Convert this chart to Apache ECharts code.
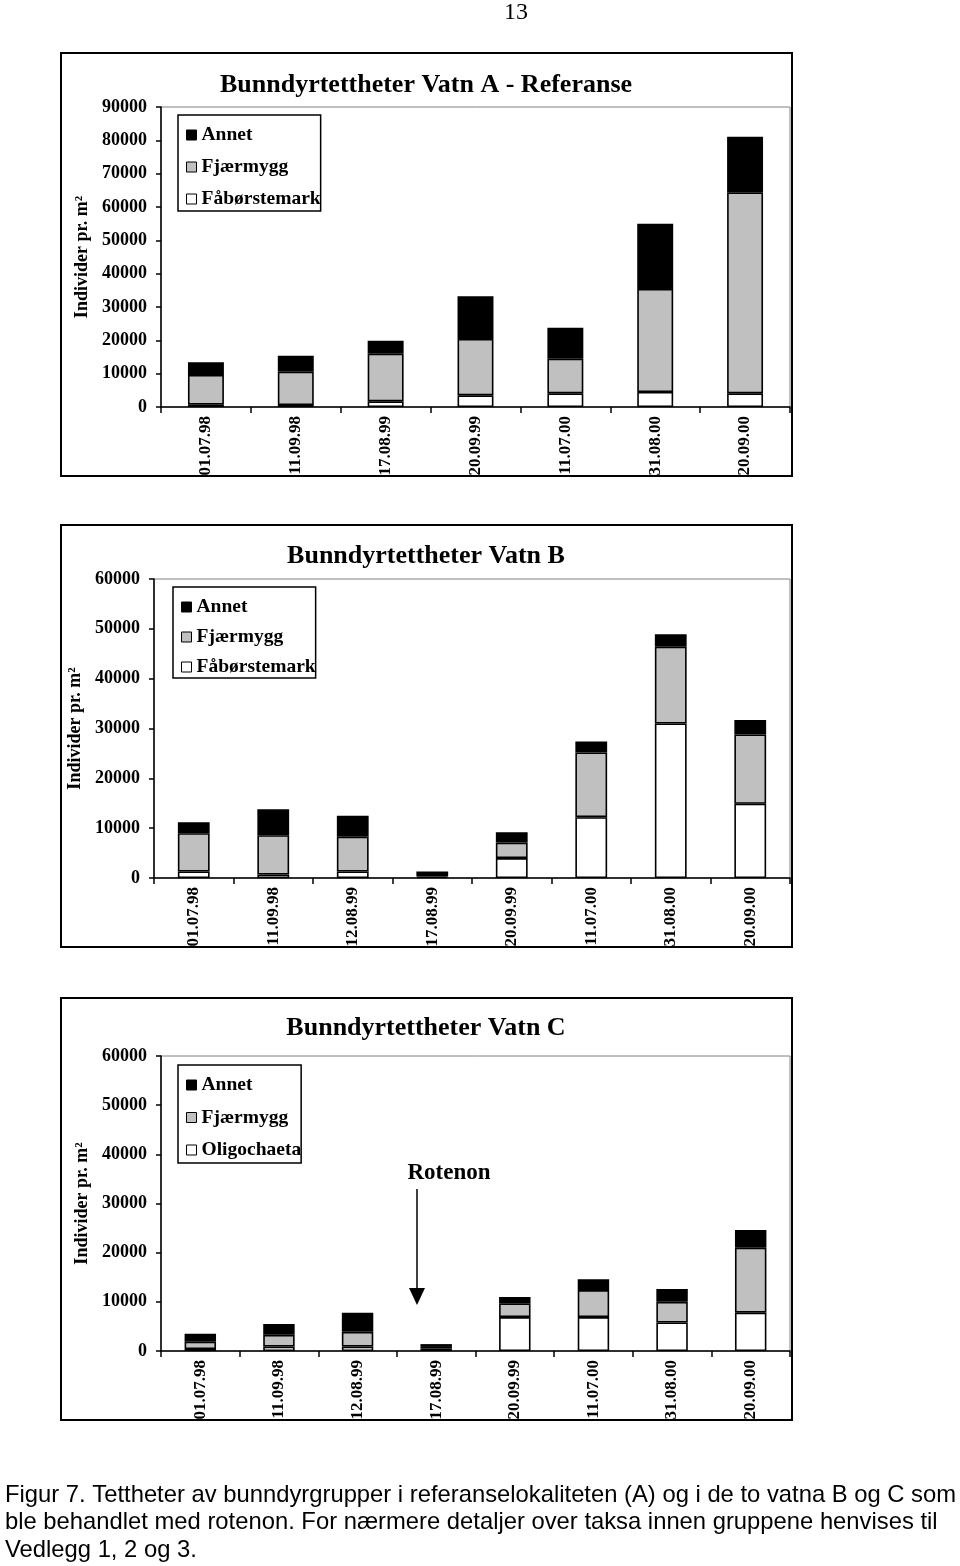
<!DOCTYPE html>
<html>
<head>
<meta charset="utf-8">
<script src="https://cdn.jsdelivr.net/npm/echarts@6/dist/echarts.min.js"></script>
<style>
html,body{margin:0;padding:0;background:#fff;}
#main{width:960px;height:1566px;}
</style>
</head>
<body>
<div id="main"></div>
<script>
// ---- Data ----
const categoriesA = ['01.07.98','11.09.98','17.08.99','20.09.99','11.07.00','31.08.00','20.09.00'];
const faborstemarkA = [700, 600, 1700, 3500, 4100, 4500, 4100];
const fjaermyggA   = [8900, 10000, 14300, 16900, 10400, 30900, 60300];
const annetA       = [3800, 4800, 3900, 12800, 9300, 19600, 16700];

const categoriesB = ['01.07.98','11.09.98','12.08.99','17.08.99','20.09.99','11.07.00','31.08.00','20.09.00'];
const faborstemarkB = [1300, 700, 1300, 300, 4000, 12200, 31000, 14900];
const fjaermyggB   = [7700, 7900, 7000, 500, 3100, 13000, 15400, 13900];
const annetB       = [2200, 5200, 4200, 500, 2100, 2200, 2500, 2900];

const categoriesC = ['01.07.98','11.09.98','12.08.99','17.08.99','20.09.99','11.07.00','31.08.00','20.09.00'];
const oligochaetaC = [400, 900, 900, 500, 6900, 6900, 5800, 7800];
const fjaermyggC   = [1500, 2400, 3000, 500, 2800, 5500, 4200, 13200];
const annetC       = [1600, 2200, 3900, 400, 1300, 2200, 2600, 3600];

const titles = ['Bunndyrtettheter Vatn A - Referanse', 'Bunndyrtettheter Vatn B', 'Bunndyrtettheter Vatn C'];
const yAxisName = 'Individer pr. m²';
const yMax = [90000, 60000, 60000];
const yInterval = 10000;

// ---- Styles ----
const SERIF = '"Liberation Serif", "Times New Roman", serif';
const SANS = '"Liberation Sans", Arial, sans-serif';
const colWhite = '#ffffff', colGray = '#c0c0c0', colBlack = '#000000';

const grids = [
  {left: 161, top: 107, width: 629, height: 300},
  {left: 154, top: 579, width: 636, height: 299},
  {left: 161, top: 1056, width: 629, height: 295}
];
const boxes = [
  {x: 61, y: 53, w: 731, h: 423},
  {x: 61, y: 525, w: 731, h: 422},
  {x: 61, y: 998, w: 731, h: 422}
];
const nameGaps = [63, 64, 57];

function seriesFor(idx, stack, names, arrays) {
  const colors = [colWhite, colGray, colBlack];
  return names.map((n, i) => ({
    name: n, type: 'bar', stack: stack,
    xAxisIndex: idx, yAxisIndex: idx,
    barWidth: '40%',
    data: arrays[i],
    itemStyle: {color: colors[i], borderColor: '#000', borderWidth: 1.6},
    emphasis: {disabled: true},
    animation: false
  }));
}

const cats = [categoriesA, categoriesB, categoriesC];

const option = {
  animation: false,
  backgroundColor: '#fff',
  grid: grids.map(g => Object.assign({show: true, borderColor: '#808080', borderWidth: 1, backgroundColor: 'transparent', containLabel: false}, g)),
  xAxis: cats.map((c, i) => ({
    type: 'category', gridIndex: i, data: c,
    axisLine: {lineStyle: {color: '#000', width: 1.5}},
    axisTick: {show: true, alignWithLabel: false, length: 6, lineStyle: {color: '#000', width: 1.5}},
    axisLabel: {rotate: 90, margin: 9, color: '#000', fontFamily: SERIF, fontWeight: 'bold', fontSize: 17, interval: 0},
    splitLine: {show: false}
  })),
  yAxis: yMax.map((m, i) => ({
    type: 'value', gridIndex: i, min: 0, max: m, interval: yInterval,
    name: yAxisName, nameLocation: 'middle', nameGap: nameGaps[i],
    nameTextStyle: {fontFamily: SERIF, fontWeight: 'bold', fontSize: 18, color: '#000'},
    axisLine: {show: true, lineStyle: {color: '#000', width: 1.5}},
    axisTick: {show: true, length: 5, lineStyle: {color: '#000', width: 1.5}},
    axisLabel: {margin: 14, color: '#000', fontFamily: SERIF, fontWeight: 'bold', fontSize: 18, formatter: v => String(v)},
    splitLine: {show: false}
  })),
  legend: [
    {left: 178, top: 115, legendNames: ['Annet','Fjærmygg','Fåbørstemark'], gap: 12, pb: 2},
    {left: 173, top: 587, legendNames: ['Annet','Fjærmygg','Fåbørstemark'], gap: 10, pb: 1},
    {left: 178, top: 1065, legendNames: ['Annet','Fjærmygg','Oligochaeta'], gap: 12.5, pb: 3}
  ].map(l => ({
    left: l.left, top: l.top, orient: 'vertical', data: l.legendNames,
    icon: 'rect',
    itemWidth: 10, itemHeight: 10, itemGap: l.gap,
    selectedMode: false,
    borderColor: '#000', borderWidth: 1.5, padding: [10, 0, l.pb, 8],
    backgroundColor: '#fff',
    itemStyle: {borderColor: '#000', borderWidth: 1},
    textStyle: {fontFamily: SERIF, fontWeight: 'bold', fontSize: 19.5, lineHeight: 19, color: '#000'}
  })),
  series: [].concat(
    seriesFor(0, 'A', ['Fåbørstemark','Fjærmygg','Annet'], [faborstemarkA, fjaermyggA, annetA]),
    seriesFor(1, 'B', ['Fåbørstemark','Fjærmygg','Annet'], [faborstemarkB, fjaermyggB, annetB]),
    seriesFor(2, 'C', ['Oligochaeta','Fjærmygg','Annet'], [oligochaetaC, fjaermyggC, annetC])
  ),
  graphic: {elements: []}
};

const els = option.graphic.elements;
// boxes
boxes.forEach(b => {
  els.push({type: 'rect', shape: {x: b.x, y: b.y, width: b.w, height: b.h}, style: {fill: 'none', stroke: '#000', lineWidth: 2}, z: 1, silent: true});
});
// titles
const titleY = [85, 556, 1028];
titles.forEach((t, i) => {
  els.push({type: 'text', x: 426, y: titleY[i], style: {text: t, fill: '#000', font: 'bold 26px ' + SERIF, textAlign: 'center', textVerticalAlign: 'middle'}, silent: true});
});
// page number
els.push({type: 'text', x: 516, y: 13, style: {text: '13', fill: '#000', font: '24px ' + SERIF, textAlign: 'center', textVerticalAlign: 'middle'}, silent: true});
// Rotenon annotation
els.push({type: 'text', x: 449, y: 1173, style: {text: 'Rotenon', fill: '#000', font: 'bold 23px ' + SERIF, textAlign: 'center', textVerticalAlign: 'middle'}, silent: true});
els.push({type: 'line', shape: {x1: 417, y1: 1189, x2: 417, y2: 1292}, style: {stroke: '#000', lineWidth: 1.5}, silent: true});
els.push({type: 'polygon', shape: {points: [[409, 1288], [425, 1288], [417, 1305]]}, style: {fill: '#000'}, silent: true});
// caption
const captionLines = [
  'Figur 7. Tettheter av bunndyrgrupper i referanselokaliteten (A) og i de to vatna B og C som',
  'ble behandlet med rotenon. For nærmere detaljer over taksa innen gruppene henvises til',
  'Vedlegg 1, 2 og 3.'
];
const capY = [1495, 1522, 1550];
captionLines.forEach((t, i) => {
  els.push({type: 'text', x: 5, y: capY[i], style: {text: t, fill: '#000', font: '23.8px ' + SANS, textAlign: 'left', textVerticalAlign: 'middle'}, silent: true});
});

const chart = echarts.init(document.getElementById('main'), null, {renderer: 'canvas'});
chart.setOption(option);
</script>
</body>
</html>
